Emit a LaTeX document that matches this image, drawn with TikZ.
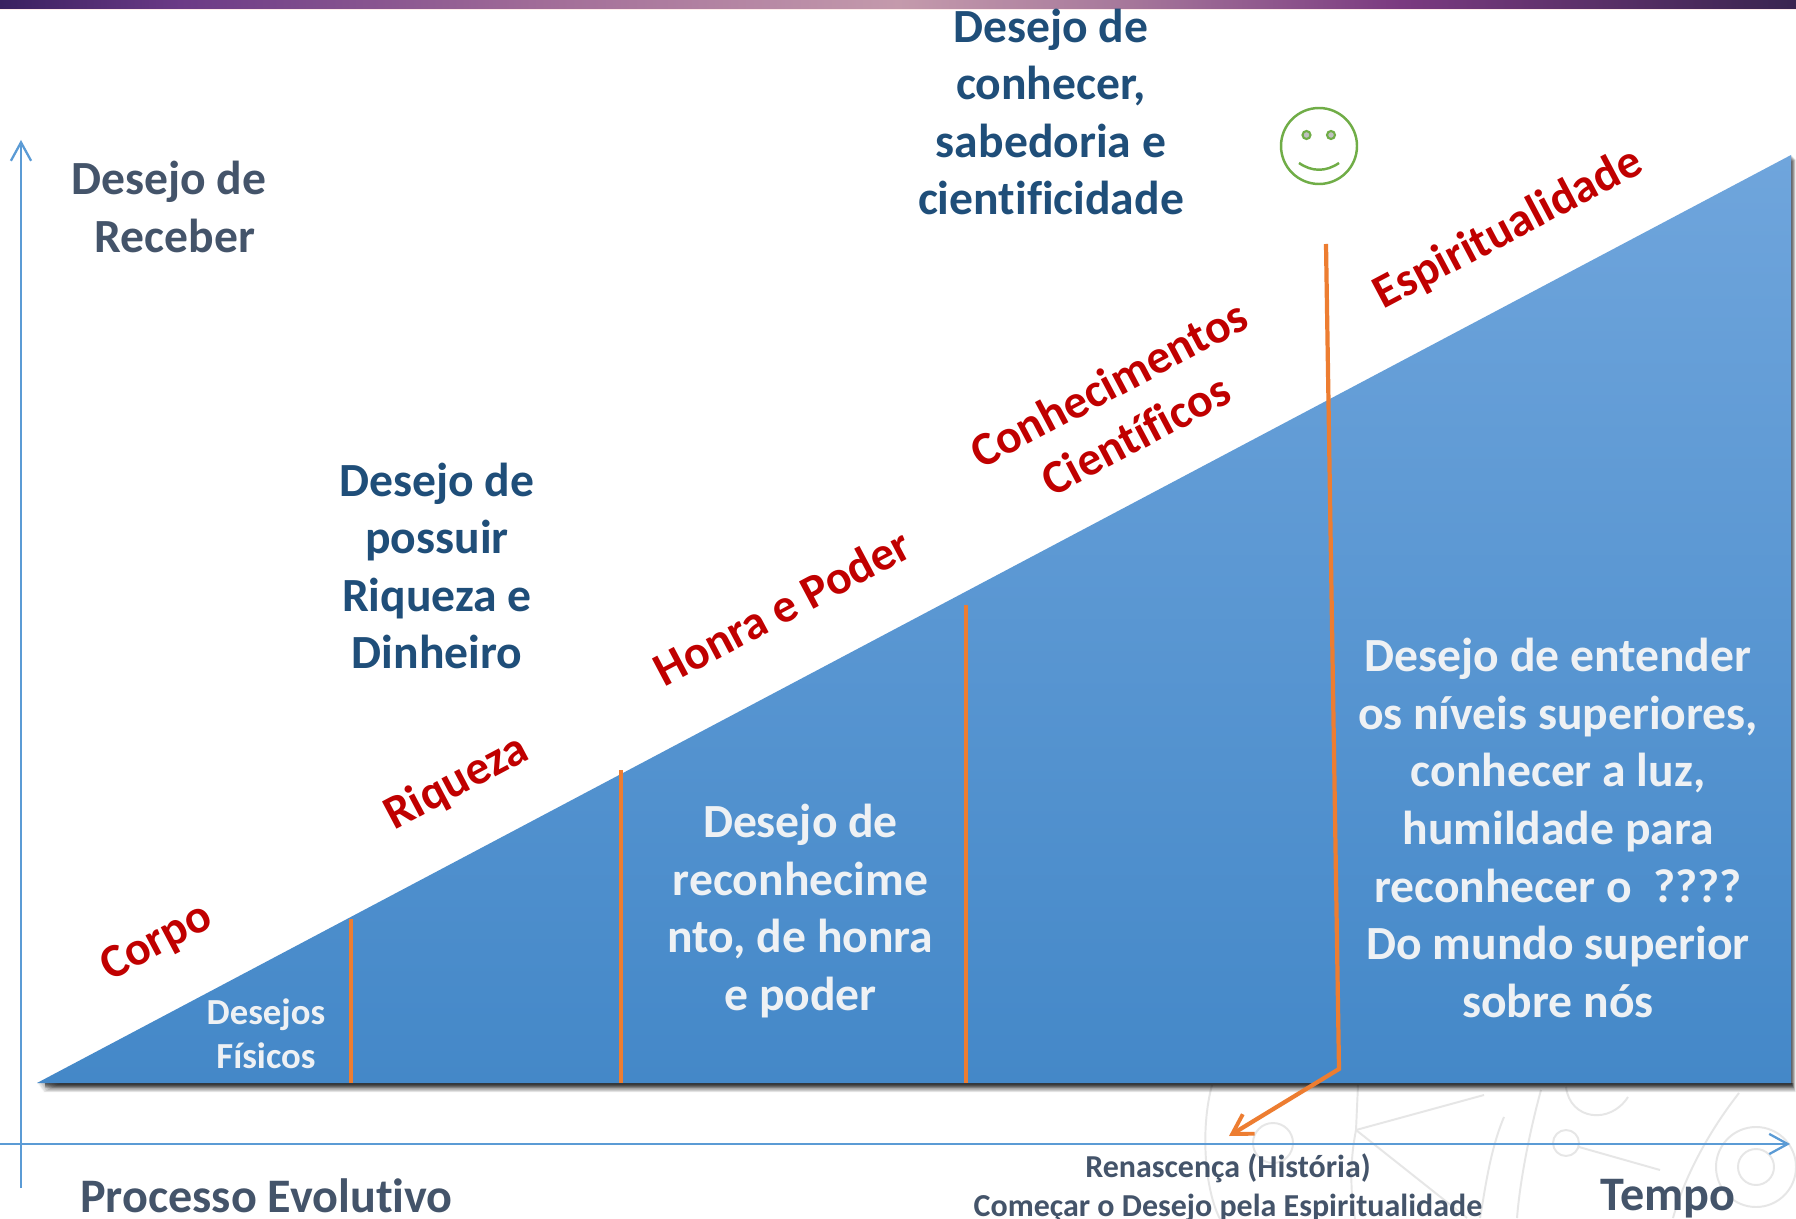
\documentclass[tikz,border=0pt]{standalone}
\usepackage{fontspec}
\setmainfont{Carlito}[Ligatures=NoCommon]
\usetikzlibrary{arrows.meta}
\definecolor{slate}{HTML}{44546A}
\definecolor{navy}{HTML}{1F4E79}
\definecolor{redt}{HTML}{C00000}
\definecolor{paleT}{HTML}{EEF1F4}
\definecolor{axisb}{HTML}{5B9BD5}
\definecolor{orangeL}{HTML}{ED7D31}
\definecolor{greenS}{HTML}{70AD47}
\definecolor{wm}{HTML}{E6E6E6}
\definecolor{triTop}{HTML}{6FA5DC}
\definecolor{triBot}{HTML}{4488C8}
\definecolor{ba}{HTML}{3A2060}
\definecolor{bb}{HTML}{6B3A86}
\definecolor{bc}{HTML}{A16C98}
\definecolor{bd}{HTML}{C49AAC}
\definecolor{be}{HTML}{A87A9C}
\definecolor{bf}{HTML}{7A3A80}
\definecolor{bg}{HTML}{3A2550}
\pgfdeclarehorizontalshading{topbar}{100bp}{color(0bp)=(ba); color(25bp)=(ba); color(30bp)=(bb); color(40bp)=(bc); color(50bp)=(bd); color(56bp)=(be); color(64bp)=(bf); color(75bp)=(bg); color(100bp)=(bg)}
\tikzset{
 x=0.02cm,y=-0.02cm,
 big/.style={font=\fontsize{27.1pt}{32.8pt}\selectfont\bfseries,align=center,inner sep=0},
 small/.style={font=\fontsize{20.9pt}{25.3pt}\selectfont\bfseries,align=center,inner sep=0},
 tiny/.style={font=\fontsize{18.2pt}{22.1pt}\selectfont\bfseries,align=center,inner sep=0},
 huge/.style={font=\fontsize{27.4pt}{33pt}\selectfont\bfseries,align=center,inner sep=0},
 sl/.style={big,text=redt,rotate=27.9},
 axisline/.style={draw=axisb,line width=1.5pt,-{Straight Barb[length=10.5pt,width=11.5pt,line width=1.3pt]}},
 divider/.style={draw=orangeL,line width=2.4pt},
 wmark/.style={draw=wm,line width=1.1pt},
 smile/.style={draw=greenS,line width=1.4pt}
}
\begin{document}
\begin{tikzpicture}
\useasboundingbox (0,0) rectangle (1796,1219);
\fill[white] (0,0) rectangle (1796,1219);
% top band
\shade[shading=topbar] (0,0) rectangle (1796,9);
\fill[pink!50!white,opacity=.6] (0,9) rectangle (1796,10);
% watermark
\draw[wmark] (1212,1085) .. controls (1200,1130) and (1205,1190) .. (1220,1219);
\draw[wmark] (1358,1085) -- (1356,1130) .. controls (1350,1160) and (1350,1190) .. (1355,1219);
\draw[wmark] (1356,1130) -- (1484,1095);
\draw[wmark] (1356,1130) -- (1467,1218);
\draw[wmark] (1504,1117) .. controls (1490,1150) and (1485,1190) .. (1480,1218);
\draw[wmark] (1541,1090) .. controls (1530,1130) and (1520,1180) .. (1517,1218);
\draw[wmark] (1566,1087) .. controls (1570,1120) and (1610,1125) .. (1628,1097);
\draw[wmark] (1739,1093) .. controls (1710,1130) and (1685,1175) .. (1673,1218);
\draw[wmark] (1756,1167) circle (40);
\draw[wmark] (1756,1167) circle (18);
\draw[wmark] (1273,1143) circle (20);
\draw[wmark] (1566,1143) circle (13);
\draw[wmark] (1579,1147) -- (1660,1170);
% triangle shadow
\foreach \o in {1,2,...,9}
  \fill[black,opacity=.1] (37+\o*.7,1083+\o) -- (1791+\o*.5,155+\o*.5) -- (1791+\o*.5,1083+\o) -- cycle;
\foreach \o in {1,2,...,5}
  \fill[black,opacity=.13] (45,1083) rectangle (1791+\o*.5,1083+\o);
\shade[top color=triTop,bottom color=triBot] (37,1083) -- (1791,155) -- (1791,1083) -- cycle;
% axes
\coordinate (yfrom) at (21,1188); \coordinate (yto) at (21,140);
\coordinate (xfrom) at (0,1144); \coordinate (xto) at (1790,1144);
\draw[axisline] (yfrom) -- (yto);
\draw[axisline] (xfrom) -- (xto);
% dividers
\coordinate (d1a) at (351,919); \coordinate (d1b) at (351,1083);
\coordinate (d2a) at (621,770); \coordinate (d2b) at (621,1083);
\coordinate (d3a) at (966,605); \coordinate (d3b) at (966,1083);
\coordinate (d4a) at (1326,244); \coordinate (d4b) at (1339,1069); \coordinate (d4c) at (1229,1136);
\draw[divider] (d1a) -- (d1b);
\draw[divider] (d2a) -- (d2b);
\draw[divider] (d3a) -- (d3b);
\draw[divider,-{Straight Barb[length=11pt,width=13pt,line width=2.2pt]}] (d4a) -- (d4b) -- (d4c);
% smiley
\node[draw=greenS,line width=1.4pt,circle,minimum size=76*0.02cm,inner sep=0] (face) at (1319,146) {};
\node[draw=greenS,fill=lightgray,line width=1.2pt,circle,minimum size=8*0.02cm,inner sep=0] (eyeL) at (1306.5,135) {};
\node[draw=greenS,fill=lightgray,line width=1.2pt,circle,minimum size=8*0.02cm,inner sep=0] (eyeR) at (1331,135) {};
\draw[smile] (1299,163) .. controls (1312,172) and (1326,172) .. (1339,163);
% texts
\node[big,text=slate] (t1) at (175,207) {Desejo de\hspace*{7pt}\\Receber};
\node[big,text=navy] (t2) at (1051,112) {Desejo de\\conhecer,\\sabedoria e\\cientificidade};
\node[big,text=navy] (t3) at (437,566) {Desejo de\\possuir\\Riqueza e\\Dinheiro};
\node[big,text=paleT] (t4) at (800.5,911) {Desejo de\\reconhecime\\nto, de honra\\e poder};
\node[big,text=paleT] (t5) at (1558,828) {Desejo de entender\\os níveis superiores,\\conhecer a luz,\\humildade para\\reconhecer o\ \ ????\\Do mundo superior\\sobre nós};
\node[small,text=paleT] (t6) at (266,1034) {Desejos\\Físicos};
\node[huge,text=slate,anchor=west] (t7) at (80,1196) {Processo Evolutivo};
\node[huge,text=slate] (t8) at (1668,1199) {Tempo};
\node[tiny,text=slate] (t9) at (1228,1188) {Renascença (História)\\Começar o Desejo pela Espiritualidade};
\node[sl] (r1) at (157,943) {Corpo};
\node[sl] (r2) at (456.5,783) {Riqueza};
\node[sl] (r3) at (782,607) {Honra e Poder};
\node[sl] (r4) at (1122,409) {Conhecimentos\\Científicos};
\node[sl] (r5) at (1508.5,229) {Espiritualidade};
\end{tikzpicture}
\end{document}
